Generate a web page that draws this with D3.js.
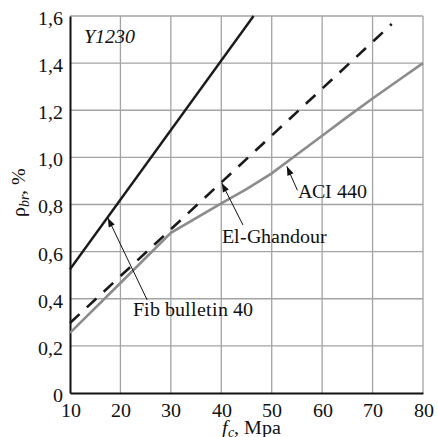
<!DOCTYPE html>
<html>
<head>
<meta charset="utf-8">
<script src="https://cdn.jsdelivr.net/npm/d3@7"></script>
<style>
  @font-face { font-family: "ChartSerif"; src: local("Liberation Serif"), local("LiberationSerif"); font-style: normal; }
  @font-face { font-family: "ChartSerif"; src: local("Liberation Serif Italic"), local("LiberationSerif-Italic"); font-style: italic; }
</style>
</head>
<body style="margin:0">
<svg id="chart" width="438" height="437"></svg>
<script>
// ---- data ----
const xTicks = [10, 20, 30, 40, 50, 60, 70, 80];
const yTicks = [0, 0.2, 0.4, 0.6, 0.8, 1.0, 1.2, 1.4, 1.6];

const fibFc = [10, 46.4];
const fibRho = [0.525, 1.6];

const ghandourFc = [10, 73.8];
const ghandourRho = [0.297, 1.566];

const aciFc = [10, 20, 30, 40, 45, 50, 55, 60, 65, 70, 75, 80];
const aciRho = [0.255, 0.467, 0.68, 0.805, 0.865, 0.932, 1.012, 1.092, 1.172, 1.25, 1.325, 1.40];

const annLabels = ["Fib bulletin 40", "El-Ghandour", "ACI 440"];
const annTextFc = [22.5, 40.2, 55.2];
const annTextRho = [0.327, 0.637, 0.828];
const annFromFc = [25.3, 44.3, 55.1];
const annFromRho = [0.395, 0.713, 0.86];
const annTipFc = [17.5, 40.1, 53.0];
const annTipRho = [0.743, 0.891, 0.962];

// ---- layout ----
const FONT = "ChartSerif, 'Liberation Serif', 'Times New Roman', serif";
const W = 438, H = 437;
const m = { left: 70, right: 15, top: 16, bottom: 44 };
const svg = d3.select("#chart");

const ann = annLabels.map((t, i) => ({ t, i }));

const x = d3.scaleLinear().domain([10, 80]).range([m.left, W - m.right]);
const y = d3.scaleLinear().domain([0, 1.6]).range([H - m.bottom, m.top]);

const gridColor = "#a3a3a3";
svg.append("g").selectAll("line").data(xTicks.slice(1)).join("line")
  .attr("x1", d => x(d)).attr("x2", d => x(d))
  .attr("y1", y(0)).attr("y2", y(1.6))
  .attr("stroke", gridColor).attr("stroke-width", 1.3);
svg.append("g").selectAll("line").data(yTicks.slice(1)).join("line")
  .attr("x1", x(10)).attr("x2", x(80))
  .attr("y1", d => y(d)).attr("y2", d => y(d))
  .attr("stroke", gridColor).attr("stroke-width", 1.3);

// axes
const fmt = d => d === 0 ? "0" : d3.format(".1f")(d).replace(".", ",");
const yAxis = d3.axisLeft(y).tickValues(yTicks).tickSize(0).tickPadding(7).tickFormat(fmt);
const xAxis = d3.axisBottom(x).tickValues(xTicks).tickSize(0).tickPadding(10).tickFormat(d3.format("d"));

const gy = svg.append("g").attr("transform", `translate(${m.left},0)`).call(yAxis);
const gx = svg.append("g").attr("transform", `translate(0,${H - m.bottom})`).call(xAxis);
[gx, gy].forEach(g => {
  g.attr("font-family", FONT).attr("font-size", 20);
  g.select(".domain").attr("stroke", "#111").attr("stroke-width", 2);
  g.selectAll("text").attr("fill", "#111");
});
gy.selectAll("text").attr("dy", "0.42em");

// lines
const line = d3.line().x(d => x(d[0])).y(d => y(d[1]));
svg.append("path").datum(d3.zip(aciFc, aciRho)).attr("d", line)
  .attr("fill", "none").attr("stroke", "#8c8c8c").attr("stroke-width", 2.6);
svg.append("path").datum(d3.zip(ghandourFc, ghandourRho)).attr("d", line)
  .attr("fill", "none").attr("stroke", "#1a1a1a").attr("stroke-width", 2.6)
  .attr("stroke-dasharray", "13,10");
svg.append("path").datum(d3.zip(fibFc, fibRho)).attr("d", line)
  .attr("fill", "none").attr("stroke", "#1a1a1a").attr("stroke-width", 2.4);

// arrows
svg.append("g").selectAll("line").data(ann).join("line")
  .attr("x1", d => x(annFromFc[d.i])).attr("y1", d => y(annFromRho[d.i]))
  .attr("x2", d => x(annTipFc[d.i])).attr("y2", d => y(annTipRho[d.i]))
  .attr("stroke", "#111").attr("stroke-width", 1);
svg.append("g").selectAll("path").data(ann).join("path")
  .attr("d", "M0,0 L-9,-3.3 L-9,3.3 Z")
  .attr("fill", "#111")
  .attr("transform", d => {
    const tx = x(annTipFc[d.i]), ty = y(annTipRho[d.i]);
    const a = Math.atan2(ty - y(annFromRho[d.i]), tx - x(annFromFc[d.i])) * 180 / Math.PI;
    return `translate(${tx},${ty}) rotate(${a})`;
  });

svg.append("g").selectAll("text").data(ann).join("text")
  .attr("x", d => x(annTextFc[d.i])).attr("y", d => y(annTextRho[d.i]))
  .attr("font-family", FONT).attr("font-size", 20).attr("fill", "#111")
  .text(d => d.t);

svg.append("text").attr("x", 84).attr("y", 43)
  .attr("font-family", FONT).attr("font-size", 20).attr("font-style", "italic").attr("fill", "#111")
  .text("Y1230");

const xt = svg.append("text").attr("x", 222).attr("y", 434)
  .attr("font-family", FONT).attr("font-size", 20).attr("fill", "#111");
xt.append("tspan").attr("font-style", "italic").text("f");
xt.append("tspan").attr("font-style", "italic").attr("font-size", 14).attr("dy", 3).text("c");
xt.append("tspan").attr("dy", -3).text(", Mpa");

const yt = svg.append("text")
  .attr("transform", "translate(25,217) rotate(-90)")
  .attr("font-family", FONT).attr("font-size", 20).attr("fill", "#111");
yt.append("tspan").text("ρ");
yt.append("tspan").attr("font-style", "italic").attr("font-size", 14).attr("dy", 4).text("br");
yt.append("tspan").attr("dy", -4).text(", %");
</script>
</body>
</html>
